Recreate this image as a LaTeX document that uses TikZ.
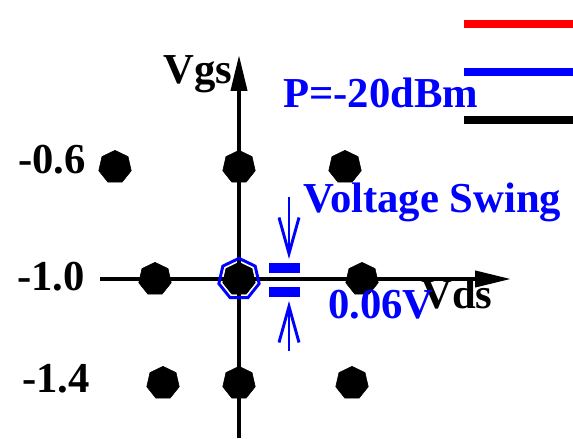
\documentclass[tikz,border=0pt]{standalone}
\usepackage{fontspec}
\setmainfont{Liberation Serif}
\usetikzlibrary{positioning,arrows.meta,shapes.geometric}

\begin{document}
\begin{tikzpicture}[
    x=0.75pt, y=-0.75pt,
    font=\fontsize{32}{32}\selectfont\bfseries,
    dot/.style={regular polygon, regular polygon sides=7, fill=black,
                draw=black, inner sep=0pt, minimum size=25pt},
    ring/.style={regular polygon, regular polygon sides=7, draw=blue,
                 line width=2.2pt, inner sep=0pt, minimum size=31pt},
    lbl/.style={anchor=base west, inner sep=0pt},
    axis/.style={line width=3pt, -{Triangle[length=27pt, width=12pt]}},
    swing/.style={blue, line width=2.2pt, -{Straight Barb[length=27pt, width=15pt]}},
    legline/.style={line width=6pt},
]
\useasboundingbox (0,0) rectangle (573,438);
% --- axes ---
\coordinate (xs) at (100,279); \coordinate (xe) at (511,279);
\coordinate (ys) at (239,438); \coordinate (ye) at (239,55);
\draw[axis] (xs) -- (xe);
\draw[axis] (ys) -- (ye);
\node[lbl] (vgs) at (163,84) {Vgs};
\node[lbl] (vds) at (421,308) {Vds};
% --- bias points ---
\foreach \nm/\px/\py in {a1/115/167, a2/239/167, a3/345/167,
                         b1/155/279, b2/239/279, b3/362/279,
                         c1/163/383, c2/239/383, c3/352/383}{
  \node[dot] (\nm) at (\px,\py) {};}
\node[ring] (op) at (b2) {};
% --- Vgs tick labels ---
\node[lbl] (t06) at (18,173) {-0.6};
\node[lbl] (t10) at (17,290) {-1.0};
\node[lbl] (t14) at (22,392) {-1.4};
% --- voltage swing marker ---
\fill[blue] (269,263) rectangle (300,273);
\fill[blue] (269,287) rectangle (300,297);
\coordinate (s1) at (289,197); \coordinate (s1e) at (289,259);
\coordinate (s2) at (289,351); \coordinate (s2e) at (289,301);
\draw[swing] (s1) -- (s1e);
\draw[swing] (s2) -- (s2e);
\node[lbl, blue] (sw) at (303,212) {Voltage Swing};
\node[lbl, blue] (sv) at (328,318) {0.06V};
% --- legend ---
\node[lbl, blue] (pw) at (283,108) {P=-20dBm};
\coordinate (l1) at (464,24);  \coordinate (r1) at (573,24);
\coordinate (l2) at (464,72);  \coordinate (r2) at (573,72);
\coordinate (l3) at (464,120); \coordinate (r3) at (573,120);
\draw[legline, red]   (l1) -- (r1);
\draw[legline, blue]  (l2) -- (r2);
\draw[legline, black] (l3) -- (r3);
\end{tikzpicture}
\end{document}
